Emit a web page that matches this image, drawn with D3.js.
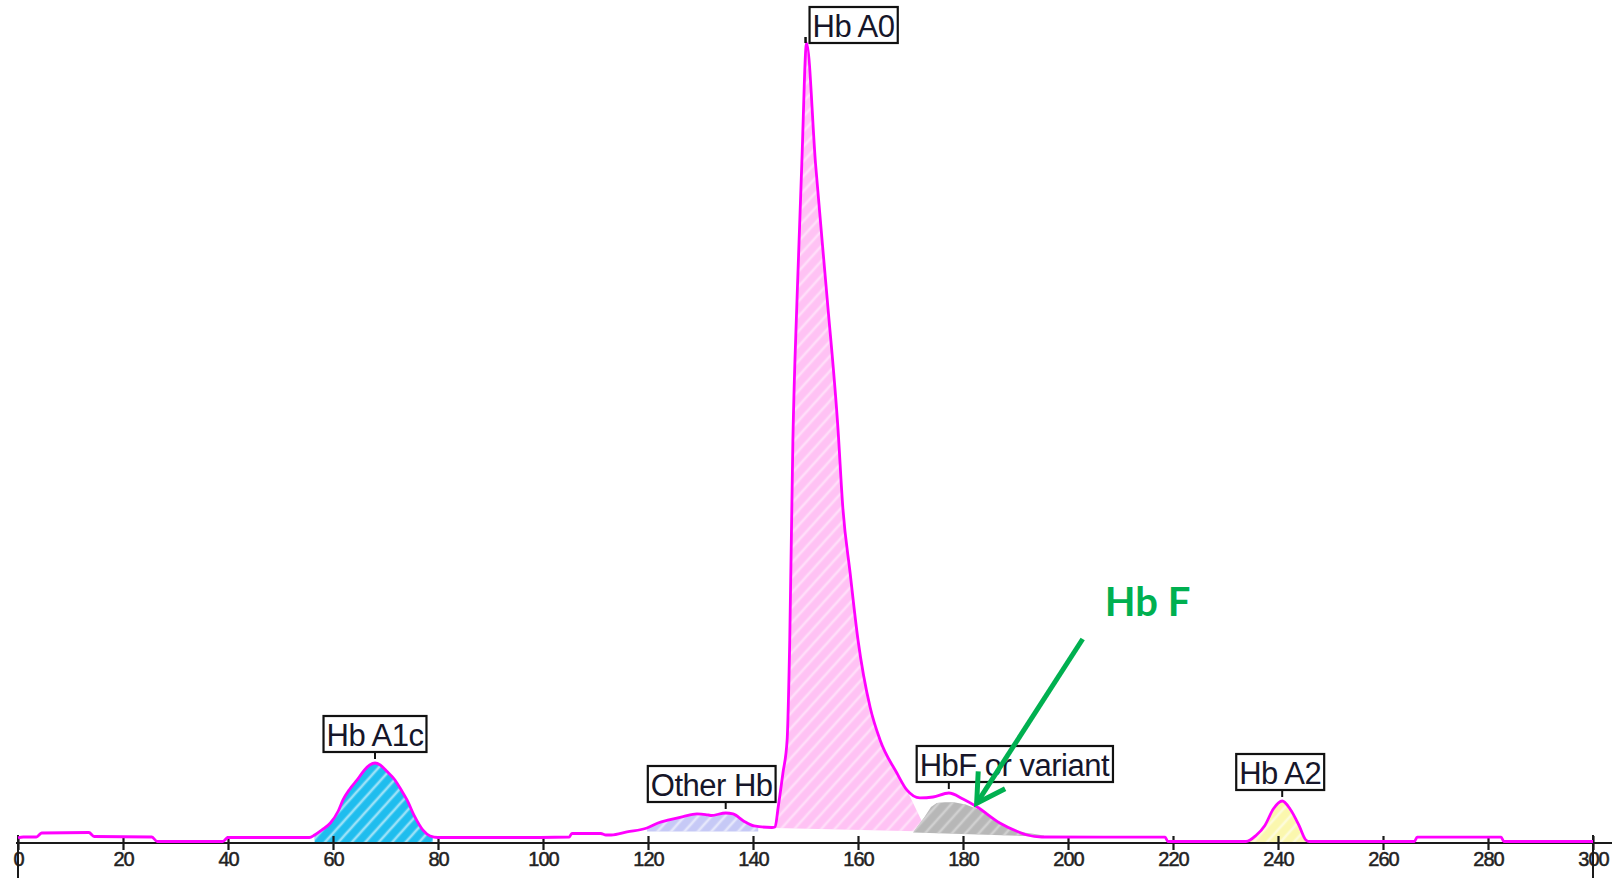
<!DOCTYPE html>
<html>
<head>
<meta charset="utf-8">
<script src="https://cdn.jsdelivr.net/npm/d3@7"></script>
<style>
  html, body { margin: 0; padding: 0; background: #ffffff; }
  svg { display: block; }
</style>
</head>
<body>
<svg id="chart" width="1612" height="878"></svg>
<script>
// HPLC chromatogram: retention time (s) and detector signal (relative units)
const traceTime = [
  0, 1, 3.5, 4.5, 13.5, 14.5, 25.5, 26.5, 39, 40, 55.5, 56.5, 57.9, 59.5, 61, 61.9,
  63.2, 64.6, 66, 67, 68, 69, 70.2, 71.8, 73, 74.1, 75.5, 77.1, 78.5, 80,
  99.5, 105, 105.5, 111, 112, 113, 116, 119.8, 121.9, 124, 126.7, 129.3, 131, 132,
  134.8, 136.2, 138.2, 140.2, 143.6, 144.2, 144.8, 145.7, 146.5, 147, 147.6, 148.4,
  149.3, 150.2, 151.9, 154.1, 156.2, 157.1, 158.5, 160, 162.3, 164.2, 167.4, 169.3,
  171.8, 174.3, 177.3, 180, 182.7, 187, 190.5, 192.2, 195, 218.5, 219, 233.9, 235.8,
  237.5, 239.1, 240.8, 242.3, 244, 245.3, 246, 266, 266.5, 282.5, 283, 300
];
const traceSignal = [
  0.63, 0.75, 0.75, 1.25, 1.31, 0.81, 0.75, 0.19, 0.19, 0.69, 0.69, 1.0, 1.63, 2.5, 4.0, 5.38,
  6.75, 7.88, 9.13, 9.75, 10.0, 9.75, 9.0, 7.88, 6.63, 5.38, 3.38, 1.63, 0.88, 0.69,
  0.69, 0.75, 1.19, 1.19, 1.0, 1.0, 1.38, 1.88, 2.5, 2.88, 3.31, 3.63, 3.56, 3.44,
  3.75, 3.63, 2.75, 2.13, 1.94, 2.0, 4.5, 8.75, 12.88, 25.38, 50.38, 68.25,
  85.0, 100, 85.0, 68.25, 51.63, 42.0, 33.75, 25.38, 17.0, 12.88, 8.75, 6.63,
  5.63, 5.75, 6.25, 5.5, 4.5, 2.5, 1.4, 1.0, 0.75, 0.73, 0.19, 0.19, 0.94,
  2.2, 4.25, 5.25, 4.25, 2.2, 0.38, 0.19, 0.19, 0.73, 0.73, 0.19, 0.19
];

// Identified peaks and their apex retention times
const peakNames = ["Hb A1c", "Other Hb", "Hb A0", "HbF or variant", "Hb A2"];
const peakTimes = [68, 134.8, 150.2, 177.3, 240.8];

// Integration windows (start, end) and baseline level at each end
const windowStart = [56.5, 119.8, 144.2, 0, 233.9];
const windowEnd = [79, 141, 169.3, 0, 245.5];
const baseStart = [0, 1.43, 1.88, 0, 0];
const baseEnd = [0, 1.43, 1.43, 0, 0];
// Hb A0 integration drop to the valley
const a0DropTime = 173.1;

// Deconvolved HbF / variant contour
const hbfTime = [170.5, 172.6, 173.9, 175, 176.5, 178.3, 180.5, 183, 185, 187.5, 190.5, 193.3, 195.4, 195.4];
const hbfSignal = [1.3, 3.2, 4.5, 5.0, 5.09, 5.09, 4.8, 4.2, 3.4, 2.4, 1.4, 1.15, 0.95, 0.8];

// Axis ticks
const xTicks = [0, 20, 40, 60, 80, 100, 120, 140, 160, 180, 200, 220, 240, 260, 280, 300];

// Annotation arrow (time, signal) and caption
const noteText = "Hb F";
const noteTail = [202.8, 25.5];
const noteTip = [182.6, 4.96];

// ---------------------------------------------------------------
const W = 1612, H = 878;
const svg = d3.select("#chart");
const x = d3.scaleLinear().domain([0, 300]).range([18, 1593]);
const y = d3.scaleLinear().domain([0, 100]).range([843, 43]);

const trace = traceTime.map((t, i) => ({ t, v: traceSignal[i] }));
const sliceTrace = (a, b) => trace.filter(d => d.t >= a && d.t <= b);
const valueAt = t => {
  const i = d3.bisector(d => d.t).left(trace, t);
  if (i <= 0) return trace[0].v;
  if (i >= trace.length) return trace[trace.length - 1].v;
  const a = trace[i - 1], b = trace[i];
  return a.v + (b.v - a.v) * (t - a.t) / (b.t - a.t);
};

// Hatch patterns
const defs = svg.append("defs");
function hatch(id, color, opacity) {
  const p = defs.append("pattern")
    .attr("id", id)
    .attr("patternUnits", "userSpaceOnUse")
    .attr("width", 10).attr("height", 10)
    .attr("patternTransform", "rotate(42)");
  p.append("line")
    .attr("x1", 5).attr("y1", 0).attr("x2", 5).attr("y2", 10)
    .attr("stroke", color).attr("stroke-width", 2.6).attr("stroke-opacity", opacity);
}
hatch("hatchWhite", "#ffffff", 0.55);
hatch("hatchSoft", "#ffffff", 0.45);
hatch("hatchGrey", "#d6d6d6", 0.8);

const line = d3.line().x(d => x(d.t)).y(d => y(d.v)).curve(d3.curveMonotoneX);

// Trace segment of one integration window
function regionPoints(i) {
  const a = windowStart[i], b = windowEnd[i];
  return [{ t: a, v: valueAt(a) }, ...sliceTrace(a, b).filter(d => d.t > a && d.t < b), { t: b, v: valueAt(b) }];
}
const regionFills = ["#1fbdee", "#c6c9f6", "#ffc2f4", null, "#fbf7ae"];
const regionHatch = ["hatchWhite", "hatchWhite", "hatchSoft", null, "hatchWhite"];
const regions = svg.append("g");

function drawRegion(topPts, bottomStart, bottomEnd, fill, pat) {
  let dStr = line(topPts);
  dStr += "L" + x(bottomEnd.t) + "," + y(bottomEnd.v);
  dStr += "L" + x(bottomStart.t) + "," + y(bottomStart.v) + "Z";
  regions.append("path").attr("d", dStr).attr("fill", fill);
  regions.append("path").attr("d", dStr).attr("fill", `url(#${pat})`);
}

[0, 1, 4].forEach(i => {
  drawRegion(regionPoints(i),
    { t: windowStart[i], v: baseStart[i] },
    { t: windowEnd[i], v: baseEnd[i] },
    regionFills[i], regionHatch[i]);
});
// Hb A0 with drop line toward the HbF valley
drawRegion(regionPoints(2),
  { t: windowStart[2], v: baseStart[2] },
  { t: a0DropTime, v: baseEnd[2] },
  regionFills[2], regionHatch[2]);

// HbF / variant deconvolved area
const hbfPts = hbfTime.map((t, i) => ({ t, v: hbfSignal[i] }));
const hbfPath = d3.line().x(d => x(d.t)).y(d => y(d.v)).curve(d3.curveLinearClosed)(hbfPts);
regions.append("path").attr("d", hbfPath).attr("fill", "#b7b7b7");
regions.append("path").attr("d", hbfPath).attr("fill", "url(#hatchGrey)");

// Axis
const axisY = y(0);
const axis = svg.append("g").attr("transform", `translate(0,${axisY})`)
  .call(d3.axisBottom(x).tickValues(xTicks).tickSize(7).tickPadding(0).tickFormat(d3.format("d")));
axis.select(".domain").remove();
axis.selectAll(".tick line")
  .attr("y1", -7).attr("y2", 7)
  .attr("stroke", "#1a1a1a").attr("stroke-width", 2.2);
axis.selectAll(".tick text")
  .attr("y", 23).attr("dy", 0)
  .attr("font-family", "'Liberation Sans', Arial, sans-serif")
  .attr("font-size", 20)
  .attr("letter-spacing", -1)
  .attr("fill", "#222")
  .attr("stroke", "#222")
  .attr("stroke-width", 0.5);
svg.append("line")
  .attr("x1", x(0) - 2).attr("x2", W)
  .attr("y1", axisY).attr("y2", axisY)
  .attr("stroke", "#1a1a1a").attr("stroke-width", 2.2);
[0, 300].forEach(v => {
  svg.append("line")
    .attr("x1", x(v)).attr("x2", x(v))
    .attr("y1", axisY - 8).attr("y2", H)
    .attr("stroke", "#1a1a1a").attr("stroke-width", 2);
});

// Trace
svg.append("path")
  .datum(trace)
  .attr("d", line)
  .attr("fill", "none")
  .attr("stroke", "#ff00ff")
  .attr("stroke-width", 2.8)
  .attr("stroke-linejoin", "round");

// Peak labels
const labelLayout = [
  { dx: 0 }, { dx: -14 }, { right: true }, { dx: 66 }, { dx: -2 }
];
const labels = svg.append("g")
  .attr("font-family", "'Liberation Sans', Arial, sans-serif")
  .attr("font-size", 31);
peakNames.forEach((name, i) => {
  const px = x(peakTimes[i]);
  const py = y(valueAt(peakTimes[i]));
  const lay = labelLayout[i];
  const g = labels.append("g");
  const txt = g.append("text").text(name).attr("fill", "#16162a").attr("letter-spacing", -0.5);
  const bb = txt.node().getBBox();
  const bw = bb.width + 6, bh = 36;
  let bx, by;
  if (lay.right) {
    bx = px + 3; by = py - bh;
    g.append("line").attr("x1", px - 1).attr("x2", px - 1).attr("y1", py).attr("y2", py - 6)
      .attr("stroke", "#111").attr("stroke-width", 2.5);
  } else {
    bx = px + lay.dx - bw / 2; by = py - 11 - bh;
    g.append("line").attr("x1", px).attr("x2", px).attr("y1", py - 4).attr("y2", py - 11)
      .attr("stroke", "#111").attr("stroke-width", 2);
  }
  g.insert("rect", "text")
    .attr("x", bx).attr("y", by).attr("width", bw).attr("height", bh)
    .attr("fill", "#fff").attr("stroke", "#111").attr("stroke-width", 2.2);
  txt.attr("x", bx + 3).attr("y", by + bh - 6);
});

// Hb F annotation arrow
const note = svg.append("g");
const tx = x(noteTail[0]), ty = y(noteTail[1]);
const hx = x(noteTip[0]), hy = y(noteTip[1]);
note.append("line")
  .attr("x1", tx).attr("y1", ty).attr("x2", hx).attr("y2", hy)
  .attr("stroke", "#00b050").attr("stroke-width", 5);
const ang = Math.atan2(ty - hy, tx - hx);
const barb = 32, spread = Math.PI / 6;
const b1 = [hx + barb * Math.cos(ang - spread), hy + barb * Math.sin(ang - spread)];
const b2 = [hx + barb * Math.cos(ang + spread), hy + barb * Math.sin(ang + spread)];
note.append("path")
  .attr("d", `M${b1[0]},${b1[1]}L${hx},${hy}L${b2[0]},${b2[1]}`)
  .attr("fill", "none").attr("stroke", "#00b050").attr("stroke-width", 5)
  .attr("stroke-linejoin", "miter").attr("stroke-linecap", "butt");
note.append("text")
  .attr("x", tx + 22).attr("y", ty - 23)
  .attr("font-family", "Lato, 'Open Sans', sans-serif")
  .attr("font-weight", 700)
  .attr("font-size", 40)
  .attr("fill", "#00b050")
  .text(noteText);
</script>
</body>
</html>
